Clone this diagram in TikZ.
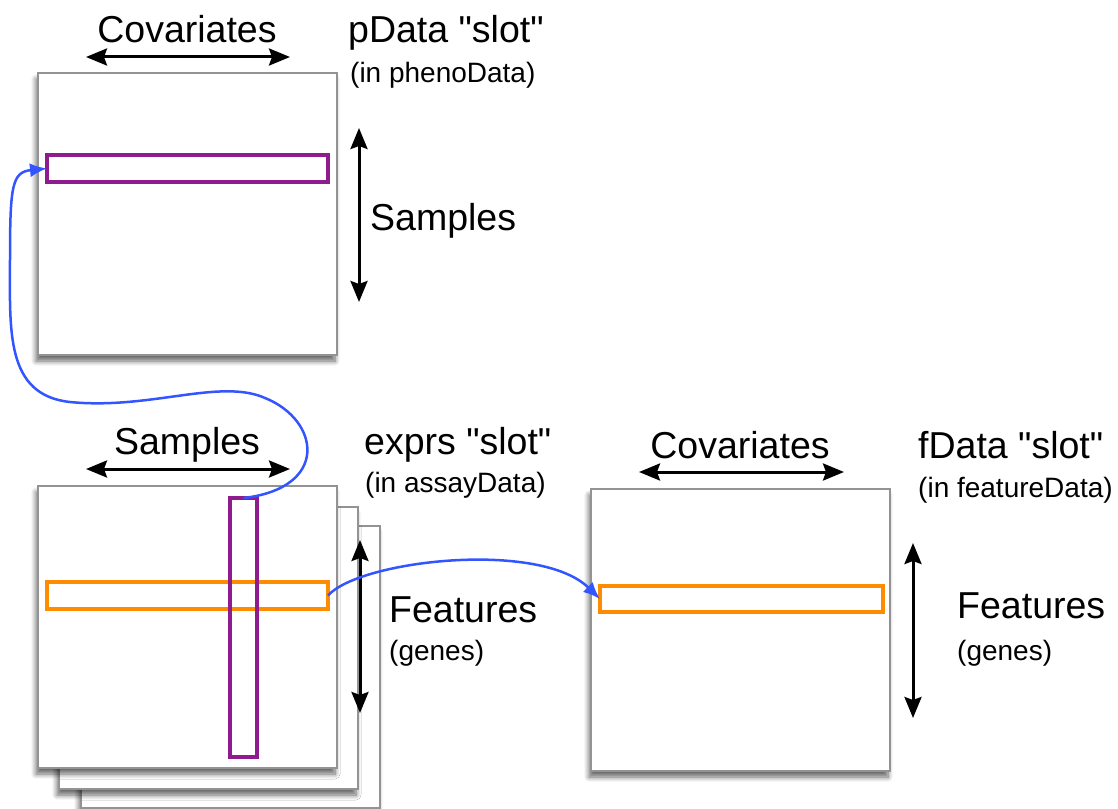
\documentclass[tikz,border=0pt]{standalone}
\usepackage{fontspec}
\setmainfont{Liberation Sans}
\usetikzlibrary{arrows.meta,shadows.blur}
\definecolor{selpurple}{RGB}{142,28,142}
\definecolor{selorange}{RGB}{255,140,0}
\definecolor{linkblue}{RGB}{51,85,255}
\newcommand{\qd}{\textquotedbl}
\begin{document}
\begin{tikzpicture}[x=1pt,y=-1pt,
	matbox/.style={draw=gray!85,line width=1.3pt,fill=white,minimum width=299pt,minimum height=282pt,inner sep=0pt,outer sep=0pt,anchor=north west,
		blur shadow={shadow xshift=-2pt,shadow yshift=-6pt,shadow blur steps=8,shadow blur radius=5pt,shadow opacity=60}},
	selbar/.style={line width=3.5pt,inner sep=0pt,outer sep=0pt,anchor=north west},
	dimarrow/.style={{Stealth[length=21pt,width=17pt,inset=3pt]}-{Stealth[length=21pt,width=17pt,inset=3pt]},line width=3pt},
	biglab/.style={font=\fontsize{37.5}{42}\selectfont,inner sep=0pt},
	smalllab/.style={font=\fontsize{28}{32}\selectfont,inner sep=0pt},
	link/.style={-{Latex[length=17pt,width=14pt]},linkblue,line width=2.5pt}]
\useasboundingbox (0,0) rectangle (1118,808);
% pData
\node[matbox] (pbox) at (38,73) {};
\node[selbar,draw=selpurple,minimum width=281pt,minimum height=27pt] (psel) at (47,155) {};
\draw[dimarrow] (86,57) -- (290,57);
\node[biglab,anchor=base] (pcov) at (187,43) {Covariates};
\node[biglab,anchor=base west] (pslot) at (348,43) {pData \qd slot\qd};
\node[smalllab,anchor=base west] (pin) at (350,82) {(in phenoData)};
\draw[dimarrow] (359,128) -- (359,302);
\node[biglab,anchor=base west] (psamp) at (370,230) {Samples};

% exprs, three layers
\node[matbox] (ebox3) at (81,526) {};
\node[matbox] (ebox2) at (59,507) {};
\node[matbox] (ebox) at (38,486) {};
\node[selbar,draw=selorange,minimum width=281pt,minimum height=27pt] (esel) at (47,582) {};
\node[selbar,draw=selpurple,minimum width=27pt,minimum height=259pt] (vsel) at (230,498) {};
\draw[dimarrow] (86,469) -- (290,469);
\node[biglab,anchor=base] (esamp) at (187,454) {Samples};
\node[biglab,anchor=base west] (eslot) at (364,454) {exprs \qd slot\qd};
\node[smalllab,anchor=base west] (ein) at (365,492) {(in assayData)};
\draw[dimarrow] (360,540) -- (360,713);
\node[biglab,anchor=base west] (efeat) at (389,622) {Features};
\node[smalllab,anchor=base west] (egen) at (389,660) {(genes)};

% fData
\node[matbox] (fbox) at (591,489) {};
\node[selbar,draw=selorange,minimum width=283pt,minimum height=26pt] (fsel) at (600,586) {};
\draw[dimarrow] (639,472) -- (844,472);
\node[biglab,anchor=base] (fcov) at (740,458) {Covariates};
\node[biglab,anchor=base west] (fslot) at (918,458) {fData \qd slot\qd};
\node[smalllab,anchor=base west] (fin) at (918,497) {(in featureData)};
\draw[dimarrow] (913,543) -- (913,718);
\node[biglab,anchor=base west] (ffeat) at (957,618) {Features};
\node[smalllab,anchor=base west] (fgen) at (957,660) {(genes)};

% links
\draw[link] (vsel.north) .. controls (330,488) and (320,420) .. (265,398) .. controls (220,378) and (150,410) .. (70,402)
	.. controls (5,395) and (10,330) .. (10,260) .. controls (10,185) and (12,172) .. (psel.west);
\draw[link] (esel.east) .. controls (360,560) and (540,540) .. (fsel.west);
\end{tikzpicture}
\end{document}
